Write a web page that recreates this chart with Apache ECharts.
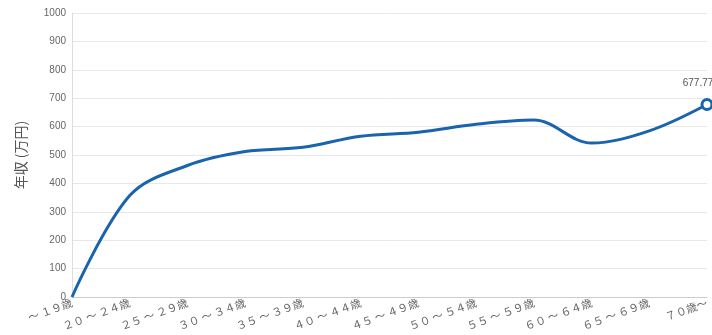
<!DOCTYPE html>
<html><head><meta charset="utf-8">
<script src="https://cdn.jsdelivr.net/npm/echarts@6/dist/echarts.min.js"></script>
<style>html,body{margin:0;padding:0;background:#fff}#c{width:712px;height:335px}</style>
</head><body><div id="c"></div>
<script>
const categories = ["～ １９歳","２０ ～ ２４歳","２５ ～ ２９歳","３０ ～ ３４歳","３５ ～ ３９歳","４０ ～ ４４歳","４５ ～ ４９歳","５０ ～ ５４歳","５５ ～ ５９歳","６０ ～ ６４歳","６５ ～ ６９歳","７０歳～"];
const income = [0, 357, 463, 512, 527, 566, 580, 608, 623, 542, 585, 677.77];
const yTicks = {min: 0, max: 1000, interval: 100};
const yName = "年収 (万円)";

const chart = echarts.init(document.getElementById('c'));
chart.setOption({
  animation: false,
  grid: {left: 72, right: 5, top: 13, bottom: 38},
  xAxis: {
    type: 'category', data: categories, boundaryGap: false,
    axisLine: {lineStyle: {color: '#ccc'}},
    axisTick: {show: false},
    axisLabel: {rotate: 20, color: '#666', fontSize: 11, margin: 5, interval: 0,
      fontFamily: 'Noto Sans CJK JP'}
  },
  yAxis: {
    type: 'value', min: yTicks.min, max: yTicks.max, interval: yTicks.interval,
    name: yName, nameLocation: 'middle', nameGap: 44, nameRotate: 90,
    nameTextStyle: {color: '#555', fontSize: 14, fontFamily: 'Noto Sans CJK JP'},
    axisLine: {show: true, lineStyle: {color: '#ddd'}},
    axisTick: {show: false},
    axisLabel: {color: '#666', fontSize: 10, margin: 6, formatter: v => String(v)},
    splitLine: {lineStyle: {color: '#e8e8e8'}}
  },
  series: [{
    type: 'line', smooth: 0.35, data: income.map((v, i) => i === income.length - 1 ? {
      value: v, symbol: 'circle', symbolSize: 10,
      itemStyle: {color: '#fff', borderColor: '#1a63ad', borderWidth: 3},
      label: {show: true, position: 'top', color: '#555', fontSize: 10, distance: 10,
        overflow: 'none', offset: [-9, 0]}
    } : {value: v, symbol: 'none'}),
    showSymbol: true,
    lineStyle: {color: '#1a63ad', width: 3},
    itemStyle: {color: '#1a63ad'}
  }]
});
</script></body></html>
